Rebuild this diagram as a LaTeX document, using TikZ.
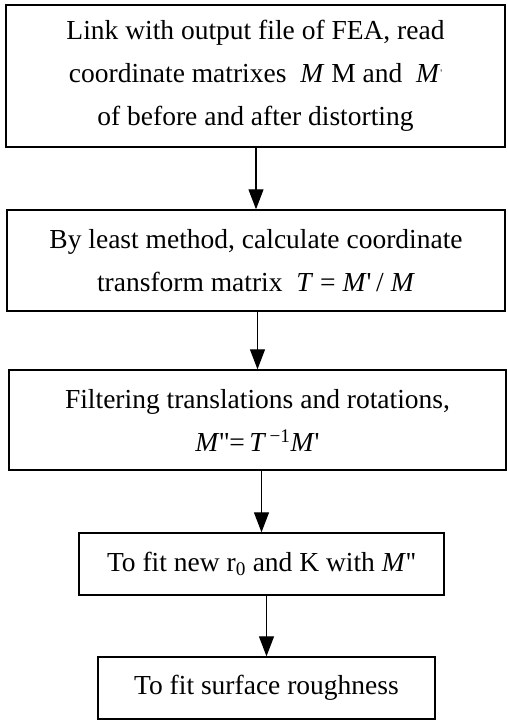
\documentclass[tikz,border=0pt]{standalone}
\usepackage{fontspec}
\setmainfont{Liberation Serif}
\usetikzlibrary{arrows.meta}
\newcommand{\Mq}{\textit{M}\textquotesingle}
\begin{document}
\begin{tikzpicture}[x=1pt,y=-1pt,>={Triangle[length=20pt,width=15pt]},
  font=\fontsize{27.5}{43}\selectfont,
  stepbox/.style={draw,line width=1.4pt,align=center,inner sep=0pt},
  flow/.style={->,line width=1.2pt}]
\useasboundingbox (0,0) rectangle (507,720);
\node[stepbox,minimum width=499pt,minimum height=142pt] (link) at (255.5,76)
  {Link with output file of FEA, read\\
   coordinate matrixes \ \textit{M} M and \ \textit{M}\raisebox{6pt}{\fontsize{10}{10}\selectfont\textquotesingle}\\
   of before and after distorting};
\node[stepbox,minimum width=498pt,minimum height=101pt] (lsq) at (256,260.5)
  {By least method, calculate coordinate\\
   transform matrix \ \textit{T} = \Mq\,/ \textit{M}};
\node[stepbox,minimum width=497pt,minimum height=100pt] (filt) at (257.5,420)
  {Filtering translations and rotations,\\
   \textit{M}\textquotesingle\textquotesingle=\,\textit{T}\textsuperscript{\,−1}\Mq};
\node[stepbox,minimum width=365pt,minimum height=62pt] (fitrk) at (261.5,564)
  {To fit new r\textsubscript{0} and K with \textit{M}\textquotesingle\textquotesingle};
\node[stepbox,minimum width=337pt,minimum height=62pt] (rough) at (266.5,688)
  {To fit surface roughness};
\draw[flow] (lsq.north |- link.south) -- (lsq.north);
\draw[flow] (filt.north |- lsq.south) -- (filt.north);
\draw[flow] (fitrk.north |- filt.south) -- (fitrk.north);
\draw[flow] (rough.north |- fitrk.south) -- (rough.north);
\end{tikzpicture}
\end{document}
